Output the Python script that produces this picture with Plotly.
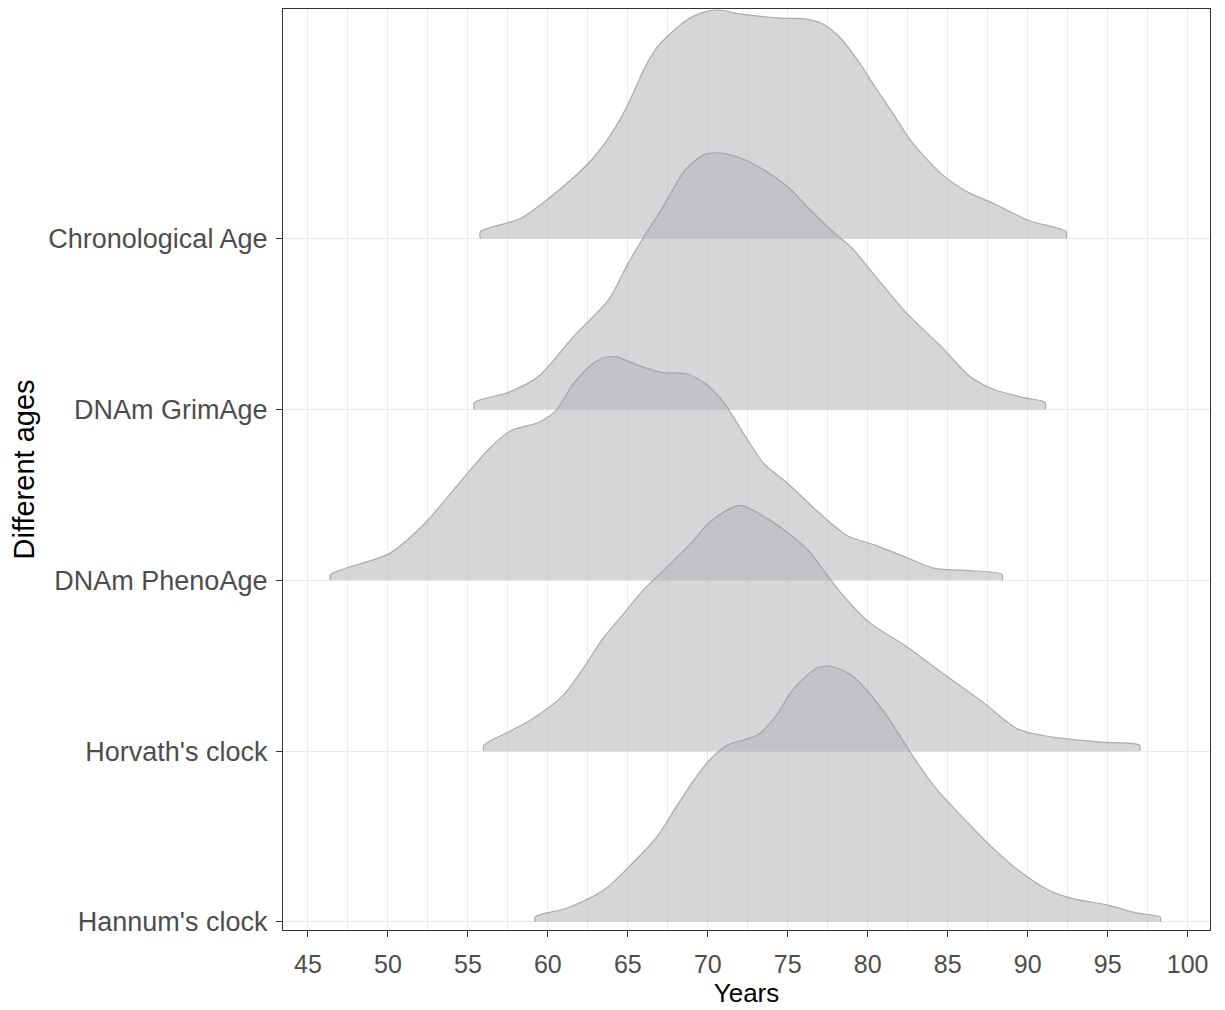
import plotly.graph_objects as go

# Categories (bottom to top positions 1..5)
categories = ["Hannum's clock", "Horvath's clock", "DNAm PhenoAge", "DNAm GrimAge", "Chronological Age"]

# Density ridges: x (years) and scaled density heights (in row units)
chrono_x = [55.78, 55.78, 58.25, 60.1, 62.5, 63.8, 64.9, 66.05, 66.8, 67.5, 68.6, 69.75, 70.7, 72.0, 74.6,
            76.1, 77.2, 78.3, 79.4, 80.5, 81.6, 82.7, 84.6, 86.1, 87.9, 90.1, 92.4, 92.4]
chrono_h = [0, 0.041, 0.117, 0.240, 0.439, 0.591, 0.766, 1.000, 1.117, 1.187, 1.275, 1.327, 1.339, 1.316, 1.292,
            1.287, 1.257, 1.175, 1.041, 0.883, 0.731, 0.573, 0.380, 0.281, 0.205, 0.105, 0.041, 0]

grim_x = [55.4, 55.4, 57.5, 59.4, 61.6, 63.8, 64.9, 65.7, 67.2, 68.6, 69.75, 70.7, 72.0, 73.5, 75.0, 76.4,
          77.9, 79.0, 80.5, 82.4, 84.6, 86.4, 87.9, 89.75, 91.1, 91.1]
grim_h = [0, 0.041, 0.099, 0.193, 0.427, 0.643, 0.836, 0.965, 1.187, 1.404, 1.491, 1.503, 1.474, 1.404, 1.304, 1.170,
          1.035, 0.947, 0.778, 0.567, 0.368, 0.193, 0.117, 0.070, 0.041, 0]

pheno_x = [46.4, 46.4, 50.1, 52.3, 54.6, 56.4, 57.7, 59.4, 60.5, 61.6, 63.1, 64.2, 65.7, 67.2, 68.6, 69.75,
           70.9, 72.4, 73.5, 75.0, 76.8, 78.7, 80.5, 82.4, 84.2, 86.1, 88.4, 88.4]
pheno_h = [0, 0.033, 0.158, 0.333, 0.585, 0.778, 0.877, 0.924, 0.994, 1.152, 1.287, 1.310, 1.257, 1.216, 1.211, 1.158,
           1.053, 0.836, 0.684, 0.567, 0.409, 0.263, 0.205, 0.135, 0.070, 0.058, 0.035, 0]

horv_x = [56.0, 56.0, 57.5, 59.0, 60.9, 62.3, 63.4, 64.6, 66.0, 67.5, 69.0, 70.1, 72.0, 73.8, 75.3, 76.4,
          77.2, 78.3, 80.1, 82.4, 84.6, 87.2, 89.4, 91.6, 94.6, 97.0, 97.0]
horv_h = [0, 0.035, 0.111, 0.187, 0.322, 0.497, 0.655, 0.789, 0.947, 1.082, 1.222, 1.339, 1.439, 1.357, 1.257, 1.164,
          1.064, 0.930, 0.754, 0.614, 0.462, 0.287, 0.129, 0.082, 0.053, 0.035, 0]

hann_x = [59.2, 59.2, 61.2, 63.5, 65.3, 66.8, 67.9, 69.0, 70.1, 71.2, 73.1, 74.2, 75.3, 76.8, 77.7, 79.0,
          80.1, 81.25, 82.7, 84.2, 86.1, 87.5, 89.4, 91.3, 92.7, 95.0, 96.8, 98.3, 98.3]
hann_h = [0, 0.029, 0.082, 0.187, 0.345, 0.497, 0.655, 0.813, 0.947, 1.035, 1.094, 1.199, 1.357, 1.485, 1.497, 1.444,
          1.339, 1.199, 0.988, 0.789, 0.596, 0.462, 0.304, 0.187, 0.140, 0.099, 0.053, 0.029, 0]

x_ticks = [45, 50, 55, 60, 65, 70, 75, 80, 85, 90, 95, 100]

ridges = [  # drawn top to bottom
    ("Chronological Age", chrono_x, chrono_h),
    ("DNAm GrimAge", grim_x, grim_h),
    ("DNAm PhenoAge", pheno_x, pheno_h),
    ("Horvath's clock", horv_x, horv_h),
    ("Hannum's clock", hann_x, hann_h),
]

FILL = "rgba(178,180,184,0.55)"
LINE = "rgba(150,151,155,0.75)"

fig = go.Figure()
for name, xs, hs in ridges:
    base = categories.index(name) + 1
    fig.add_trace(go.Scatter(x=[xs[0], xs[-1]], y=[base, base], mode="lines",
                             line=dict(width=0, color="rgba(0,0,0,0)"),
                             hoverinfo="skip", showlegend=False))
    fig.add_trace(go.Scatter(x=xs, y=[base + h for h in hs], mode="lines",
                             line=dict(color=LINE, width=1.2, shape="spline", smoothing=0.8),
                             fill="tonexty", fillcolor=FILL, name=name, showlegend=False))

font_family = "Liberation Sans, Arial, sans-serif"
fig.update_layout(
    width=1217, height=1002,
    margin=dict(l=275, r=15, t=1, b=80),
    paper_bgcolor="white", plot_bgcolor="white",
    font=dict(family=font_family, color="#4d4d4d"),
    showlegend=False,
)
fig.update_xaxes(
    range=[43.44, 101.4], tickvals=x_ticks, ticktext=[str(v) for v in x_ticks],
    showgrid=True, gridcolor="#ebebeb", gridwidth=1.2,
    minor=dict(dtick=2.5, tick0=0, showgrid=True, gridcolor="#ebebeb", gridwidth=0.8, ticks=""),
    showline=True, linecolor="#333333", linewidth=1.3, mirror=True,
    ticks="outside", ticklen=6, tickcolor="#333333", tickwidth=1.2,
    ticklabelstandoff=6,
    tickfont=dict(size=25, color="#4d4d4d", family=font_family),
    title=dict(text="Years", font=dict(size=26, color="black", family=font_family), standoff=4),
    zeroline=False, automargin=False,
)
fig.update_yaxes(
    range=[0.953, 6.345], tickvals=[1, 2, 3, 4, 5], ticktext=categories,
    showgrid=True, gridcolor="#ebebeb", gridwidth=1.2,
    showline=True, linecolor="#333333", linewidth=1.3, mirror=True,
    ticks="outside", ticklen=6, tickcolor="#333333", tickwidth=1.2,
    ticklabelstandoff=3,
    tickfont=dict(size=27, color="#4d4d4d", family=font_family),
    title=dict(text="Different ages", font=dict(size=29, color="black", family=font_family), standoff=6),
    zeroline=False, automargin=False,
)

fig.write_html("out.html")
